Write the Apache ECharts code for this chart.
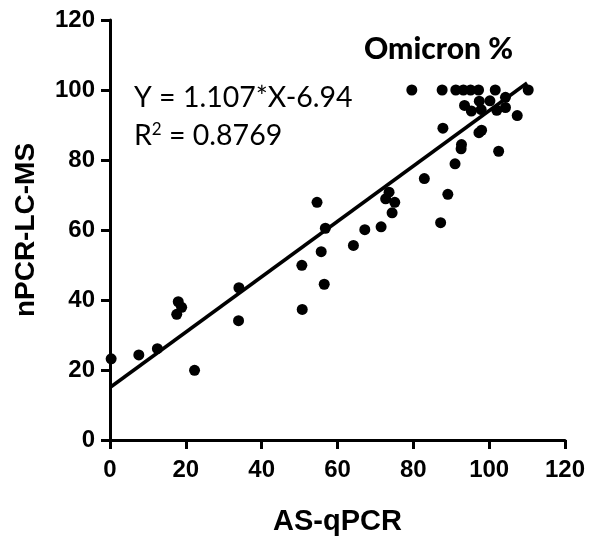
<!DOCTYPE html>
<html>
<head>
<meta charset="utf-8">
<script src="https://cdn.jsdelivr.net/npm/echarts@6/dist/echarts.min.js"></script>
<style>
html,body{margin:0;padding:0;background:#fff;}
#chart{width:591px;height:541px;}
</style>
</head>
<body>
<div id="chart"></div>
<script>
// Scatter data (AS-qPCR vs nPCR-LC-MS)
var xValues = [0.3, 7.6, 12.5, 18.0, 18.9, 17.6, 22.3, 34.0, 33.9, 50.7, 50.6, 54.6, 55.7, 56.5, 56.8, 64.2, 67.2, 71.5, 72.7, 73.6, 74.4, 75.1, 82.9, 87.2, 87.8, 89.1, 91.0, 92.6, 92.7, 97.3, 98.0, 102.5, 107.4, 79.6, 87.6, 91.2, 93.2, 95.1, 97.2, 101.6, 110.3, 93.5, 95.3, 97.4, 97.9, 100.2, 102.0, 104.3, 104.3];
var yValues = [23.2, 24.3, 26.1, 39.5, 37.9, 35.9, 19.9, 43.5, 34.1, 37.3, 49.9, 67.9, 53.8, 44.5, 60.5, 55.6, 60.1, 60.9, 68.9, 70.8, 64.9, 67.9, 74.7, 62.1, 89.1, 70.2, 78.9, 83.2, 84.4, 87.8, 88.5, 82.5, 92.7, 100, 100, 100, 100, 100, 100, 100, 100, 95.6, 94.0, 96.8, 94.4, 96.9, 94.2, 97.9, 95.0];
// Fitted line endpoints as drawn
var fitX = [0, 110];
var fitY = [15, 102];
var xTicks = [0, 20, 40, 60, 80, 100, 120];
var yTicks = [0, 20, 40, 60, 80, 100, 120];
var titleText = 'Omicron %';
var eqText = 'Y = 1.107*X-6.94';
var r2Value = '0.8769';

var points = xValues.map(function (x, i) { return [x, yValues[i]]; });
var fitLine = fitX.map(function (x, i) { return [x, fitY[i]]; });

var chart = echarts.init(document.getElementById('chart'), null, {renderer: 'canvas'});
var axisFont = '"Liberation Sans", Arial, sans-serif';
chart.setOption({
  animation: false,
  backgroundColor: '#fff',
  grid: {left: 110, top: 20, right: 26, bottom: 100},
  title: [
    {text: titleText, left: 359, top: 29, textStyle: {fontFamily: 'Lato', fontWeight: 900, fontSize: 30, color: '#000'}},
    {text: eqText, left: 129, top: 78, textStyle: {fontFamily: 'Lato', fontWeight: 'normal', fontSize: 28.5, color: '#000'}},
    {text: 'R{sup|2} = ' + r2Value, left: 129, top: 116, textStyle: {fontFamily: 'Lato', fontWeight: 'normal', fontSize: 28.5, color: '#000',
      rich: {sup: {fontFamily: 'Lato', fontSize: 17, verticalAlign: 'top', padding: [0, 0, 12, 0], color: '#000'}}}}
  ],
  xAxis: {
    type: 'value', min: 0, max: 120, interval: 20,
    name: 'AS-qPCR', nameLocation: 'middle', nameGap: 67,
    nameTextStyle: {fontFamily: axisFont, fontWeight: 'bold', fontSize: 29, color: '#000'},
    axisLine: {show: true, onZero: false, lineStyle: {color: '#000', width: 3}},
    axisTick: {show: true, inside: false, length: 9, lineStyle: {color: '#000', width: 3}},
    axisLabel: {margin: 18, fontFamily: axisFont, fontWeight: 'bold', fontSize: 24, color: '#000',
      formatter: function (v) { return xTicks.indexOf(v) >= 0 ? String(v) : ''; }},
    splitLine: {show: false}
  },
  yAxis: {
    type: 'value', min: 0, max: 120, interval: 20,
    name: 'nPCR-LC-MS', nameLocation: 'middle', nameGap: 70, nameRotate: 90,
    nameTextStyle: {fontFamily: axisFont, fontWeight: 'bold', fontSize: 28, color: '#000'},
    axisLine: {show: true, onZero: false, lineStyle: {color: '#000', width: 3}},
    axisTick: {show: true, inside: false, length: 9, lineStyle: {color: '#000', width: 3}},
    axisLabel: {margin: 15, fontFamily: axisFont, fontWeight: 'bold', fontSize: 24, color: '#000',
      formatter: function (v) { return yTicks.indexOf(v) >= 0 ? String(v) : ''; }},
    splitLine: {show: false}
  },
  series: [
    {type: 'line', data: fitLine, showSymbol: false, symbol: 'none', lineStyle: {color: '#000', width: 3.5}, z: 2},
    {type: 'scatter', data: points, symbol: 'circle', symbolSize: 11, itemStyle: {color: '#000', opacity: 1}, z: 3}
  ]
});
</script>
</body>
</html>
